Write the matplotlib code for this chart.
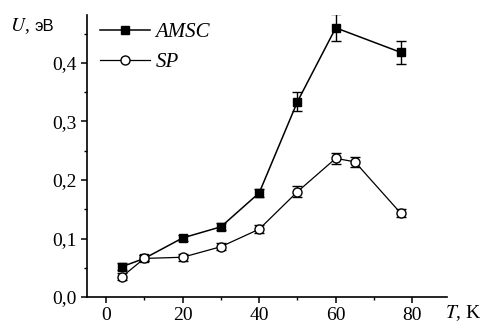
import matplotlib.pyplot as plt
from matplotlib.lines import Line2D
from matplotlib.ticker import MultipleLocator, FuncFormatter

# температура, K
t_amsc = [4.2, 10, 20, 30, 40, 50, 60, 77]
u_amsc = [0.052, 0.066, 0.101, 0.120, 0.178, 0.334, 0.460, 0.418]
e_amsc = [0.006, 0.005, 0.005, 0.006, 0.007, 0.016, 0.023, 0.020]

t_sp = [4.2, 10, 20, 30, 40, 50, 60, 65, 77]
u_sp = [0.035, 0.066, 0.068, 0.086, 0.116, 0.180, 0.237, 0.231, 0.143]
e_sp = [0.006, 0.005, 0.006, 0.006, 0.007, 0.009, 0.009, 0.009, 0.007]

plt.rcParams['font.family'] = ['Liberation Serif', 'DejaVu Serif']
plt.rcParams['mathtext.fontset'] = 'stix'

fig = plt.figure(figsize=(4.83, 3.25), dpi=100)
ax = fig.add_axes([0.180, 0.086, 0.745, 0.868])

ax.errorbar(t_amsc, u_amsc, yerr=e_amsc, color='black', marker='s', ms=6,
            mfc='black', lw=1.1, capsize=3.6, elinewidth=1, capthick=1)
ax.errorbar(t_sp, u_sp, yerr=e_sp, color='black', marker='o', ms=6.5,
            mfc='white', lw=0.9, capsize=3.6, elinewidth=1, capthick=1)

ax.set_xlim(-5, 89)
ax.set_ylim(0, 0.482)
ax.xaxis.set_major_locator(MultipleLocator(20))
ax.xaxis.set_minor_locator(MultipleLocator(10))
ax.yaxis.set_major_locator(MultipleLocator(0.1))
ax.yaxis.set_minor_locator(MultipleLocator(0.05))
ax.yaxis.set_major_formatter(FuncFormatter(lambda v, p: f'{v:.1f}'.replace('.', ',')))

for s in ['top', 'right']:
    ax.spines[s].set_visible(False)
for s in ['left', 'bottom']:
    ax.spines[s].set_linewidth(1.2)
ax.tick_params(which='major', direction='out', length=4, width=1.1, labelsize=14)
ax.tick_params(which='minor', direction='out', length=2.5, width=1)

fig.text(0.02, 0.905, '$U$,', fontsize=14, va='baseline')
fig.text(0.072, 0.905, 'эВ', fontsize=12, va='baseline', family='Liberation Sans')
fig.text(0.997, 0.022, '$T$, K', fontsize=14, va='baseline', ha='right')

handles = [
    Line2D([], [], color='black', marker='s', ms=6, mfc='black', lw=1.1),
    Line2D([], [], color='black', marker='o', ms=6.5, mfc='white', lw=0.9),
]
ax.legend(handles, ['AMSC', 'SP'], loc='upper left', bbox_to_anchor=(-0.015, 1.04),
          frameon=False, handlelength=2.4, handletextpad=0.25, labelspacing=0.5,
          prop={'style': 'italic', 'size': 15})

fig.savefig('out.png', dpi=100)
